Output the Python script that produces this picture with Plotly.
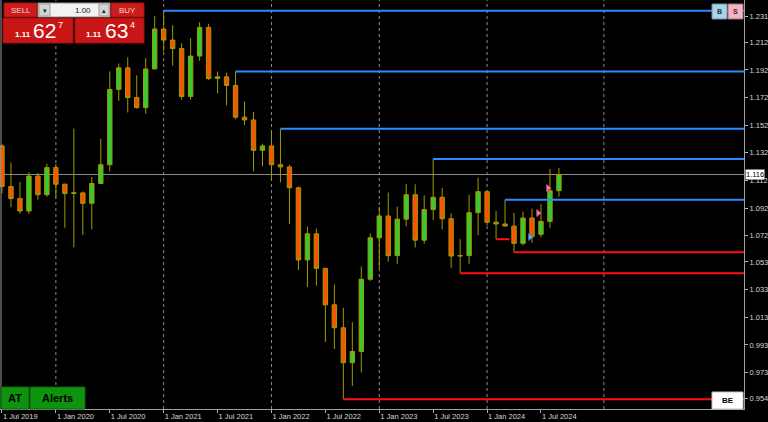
import plotly.graph_objects as go

# ---------------- data (EURUSD monthly, Jul 2019 .. Sep 2024) ----------------
month_idx = list(range(63))
opens = [1.1370, 1.1076, 1.0990, 1.0899, 1.1152, 1.1017,
         1.1213, 1.1093, 1.1026, 1.1030, 1.0955, 1.1098, 1.1234, 1.1779, 1.1935, 1.1720, 1.1647, 1.1927,
         1.2216, 1.2136, 1.2075, 1.1728, 1.2020, 1.2228, 1.1858, 1.1870, 1.1808, 1.1578, 1.1558, 1.1338,
         1.1370, 1.1234, 1.1218, 1.1067, 1.0545, 1.0734, 1.0484, 1.0220, 1.0054, 0.9801, 0.9882, 1.0405,
         1.0705, 1.0863, 1.0576, 1.0840, 1.1017, 1.0688, 1.0909, 1.0998, 1.0843, 1.0573, 1.0576, 1.0887,
         1.1039, 1.0818, 1.0805, 1.0790, 1.0665, 1.0848, 1.0730, 1.0824, 1.1046]
highs = [1.1383, 1.1250, 1.1110, 1.1179, 1.1175, 1.1240,
         1.1239, 1.1096, 1.1495, 1.1040, 1.1146, 1.1422, 1.1909, 1.1966, 1.2011, 1.1881, 1.2004, 1.2310,
         1.2349, 1.2243, 1.2113, 1.2150, 1.2266, 1.2254, 1.1909, 1.1900, 1.1909, 1.1692, 1.1616, 1.1386,
         1.1482, 1.1495, 1.1233, 1.1076, 1.0786, 1.0773, 1.0485, 1.0368, 1.0198, 1.0094, 1.0497, 1.0736,
         1.0929, 1.1033, 1.0930, 1.1095, 1.1092, 1.1012, 1.1276, 1.1065, 1.0882, 1.0695, 1.1017, 1.1140,
         1.1046, 1.0898, 1.0981, 1.0885, 1.0895, 1.0916, 1.0948, 1.1202, 1.1211]
lows = [1.1028, 1.0926, 1.0879, 1.0879, 1.0981, 1.1002,
        1.0992, 1.0778, 1.0636, 1.0727, 1.0766, 1.1095, 1.1186, 1.1696, 1.1612, 1.1640, 1.1603, 1.1925,
        1.2053, 1.1952, 1.1704, 1.1704, 1.1986, 1.1847, 1.1752, 1.1664, 1.1563, 1.1524, 1.1186, 1.1222,
        1.1121, 1.1106, 1.0806, 1.0471, 1.0349, 1.0359, 0.9952, 0.9900, 0.9536, 0.9632, 0.9730, 1.0393,
        1.0483, 1.0533, 1.0516, 1.0788, 1.0635, 1.0662, 1.0834, 1.0766, 1.0488, 1.0448, 1.0516, 1.0724,
        1.0795, 1.0695, 1.0787, 1.0601, 1.0650, 1.0668, 1.0709, 1.0778, 1.1002]
closes = [1.1077, 1.0989, 1.0899, 1.1152, 1.1017, 1.1213,
          1.1093, 1.1026, 1.1030, 1.0955, 1.1098, 1.1234, 1.1779, 1.1935, 1.1720, 1.1647, 1.1927, 1.2216,
          1.2136, 1.2075, 1.1728, 1.2020, 1.2228, 1.1858, 1.1870, 1.1808, 1.1578, 1.1558, 1.1338, 1.1370,
          1.1234, 1.1218, 1.1067, 1.0545, 1.0734, 1.0484, 1.0220, 1.0054, 0.9801, 0.9882, 1.0405, 1.0705,
          1.0863, 1.0576, 1.0840, 1.1017, 1.0688, 1.0909, 1.0998, 1.0843, 1.0573, 1.0576, 1.0887, 1.1039,
          1.0818, 1.0805, 1.0790, 1.0665, 1.0848, 1.0713, 1.0824, 1.1046, 1.1163]

date_ticks = [0, 6, 12, 18, 24, 30, 36, 42, 48, 54, 60]
date_labels = ["1 Jul 2019", "1 Jan 2020", "1 Jul 2020", "1 Jan 2021", "1 Jul 2021", "1 Jan 2022",
               "1 Jul 2022", "1 Jan 2023", "1 Jul 2023", "1 Jan 2024", "1 Jul 2024"]
price_ticks = [1.231, 1.212, 1.192, 1.172, 1.152, 1.132, 1.112, 1.092, 1.072, 1.053,
               1.033, 1.013, 0.993, 0.973, 0.954]
price_labels = ["1.231", "1.212", "1.192", "1.172", "1.152", "1.132", "1.112", "1.092", "1.072", "1.053",
                "1.033", "1.013", "0.993", "0.973", "0.954"]
year_grid = [6, 18, 30, 42, 54, 67]

# swing levels: (bar index, end index or None)
resist_levels = [(18, None), (26, None), (31, None), (48, None), (56, None)]
support_levels = [(38, None), (51, None), (57, None), (55, 56.5)]

# trade markers
mark_x_pink = [59.7, 60.8]
mark_y_pink = [1.0884, 1.1065]
mark_x_blue = [58.8]
mark_y_blue = [1.0711]

bid_label = "1.116"

# ---------------- figure ----------------
W, H = 768, 422
ML, MR, MT, MB = 0, 24, 0, 13
PW, PH = W - ML - MR, H - MT - MB
XR = [-0.22, 82.6]
YR = [0.9466, 1.2426]


def px(x):
    return x / PW


def py(y):
    return (PH - y) / PH


FONT = "Liberation Sans"
OLIVE = "#a09a00"

fig = go.Figure()
fig.add_trace(go.Candlestick(
    x=month_idx, open=opens, high=highs, low=lows, close=closes,
    increasing=dict(line=dict(color=OLIVE, width=1), fillcolor="#33cc33"),
    decreasing=dict(line=dict(color=OLIVE, width=1), fillcolor="#ff4f00"),
    whiskerwidth=0, hoverinfo="skip", showlegend=False,
))
fig.add_trace(go.Scatter(x=mark_x_pink, y=mark_y_pink, mode="markers",
                         marker=dict(symbol="triangle-right", size=6, color="#ff7fae",
                                     line=dict(color="#c04080", width=1)),
                         hoverinfo="skip", showlegend=False))
fig.add_trace(go.Scatter(x=mark_x_blue, y=mark_y_blue, mode="markers",
                         marker=dict(symbol="triangle-right", size=6, color="#6fb8ff",
                                     line=dict(color="#3070c0", width=1)),
                         hoverinfo="skip", showlegend=False))

shapes = []
# yearly dotted grid
for g in year_grid:
    shapes.append(dict(type="line", xref="x", yref="paper", x0=g, x1=g, y0=0, y1=1,
                       line=dict(color="#8a8a8a", width=1, dash="dot"), layer="below"))
# left frame line
shapes.append(dict(type="line", xref="paper", yref="paper", x0=px(1), x1=px(1), y0=0, y1=1,
                   line=dict(color="#9a9a9a", width=1)))
# bid line
shapes.append(dict(type="line", xref="paper", yref="y", x0=0, x1=1, y0=closes[-1], y1=closes[-1],
                   line=dict(color="#8c8c8c", width=1), layer="below"))
# swing level lines
for idx, end in resist_levels:
    shapes.append(dict(type="line", xref="x", yref="y", x0=idx, x1=end if end is not None else XR[1],
                       y0=highs[idx], y1=highs[idx], line=dict(color="#2a8cff", width=2)))
for idx, end in support_levels:
    shapes.append(dict(type="line", xref="x", yref="y", x0=idx, x1=end if end is not None else XR[1],
                       y0=lows[idx], y1=lows[idx], line=dict(color="#ff1010", width=2)))


def rect(x0, y0, x1, y1, fill, line=None):
    shapes.append(dict(type="rect", xref="paper", yref="paper", x0=px(x0), x1=px(x1), y0=py(y1), y1=py(y0),
                       fillcolor=fill, line=dict(color=line or fill, width=1), layer="above"))


annots = []


def text(x, y, s, size=8, color="white", bold=False, xanchor="center", family=FONT):
    if bold:
        s = "<b>" + s + "</b>"
    annots.append(dict(xref="paper", yref="paper", x=px(x), y=py(y), text=s, showarrow=False,
                       xanchor=xanchor, yanchor="middle", font=dict(size=size, color=color, family=family)))


# trade panel
rect(4, 3, 37, 17, "#cc1c1c", "#a01010")
rect(38, 3, 110, 17, "#f2f2f2", "#909090")
rect(39, 4, 50, 16, "#d4d4d4", "#a0a0a0")
rect(99, 4, 109, 16, "#d4d4d4", "#a0a0a0")
rect(111, 3, 144, 17, "#cc1c1c", "#a01010")
rect(3, 18, 73, 43, "#c81616", "#a01010")
rect(75, 18, 144, 43, "#c81616", "#a01010")
text(20.5, 10, "SELL", 8, "#f4d8d8")
text(127.5, 10, "BUY", 8, "#f4d8d8")
text(44.5, 10, "▾", 7, "#202020")
text(104, 10, "▴", 7, "#202020")
text(93, 10, "1.00", 8, "#202020", xanchor="right")
text(22.5, 34, "1.11", 8, "white", bold=True)
text(44, 31, "62", 21, "white")
text(60.5, 25, "7", 9, "white")
text(93.5, 34, "1.11", 8, "white", bold=True)
text(116, 31, "63", 21, "white")
text(132, 25, "4", 9, "white")

# B / S buttons
rect(712, 4, 727, 19, "#a8d4e8", "#7090a0")
rect(728, 4, 743, 19, "#f4b4c0", "#a07080")
text(719.5, 11.5, "B", 7, "#203040", bold=True)
text(735.5, 11.5, "S", 7, "#402030", bold=True)

# BE box
rect(712, 392, 743, 409, "white", "#c0c0c0")
text(727.5, 400.5, "BE", 8, "black", bold=True)

# AT / Alerts
rect(1, 387, 29, 409, "#0e930e", "#0a600a")
rect(30, 387, 85, 409, "#0e930e", "#0a600a")
text(15, 398, "AT", 11, "black", bold=True)
text(57.5, 398, "Alerts", 11, "black", bold=True)

# bid price tag on axis
annots.append(dict(xref="paper", yref="y", x=px(745), y=closes[-1], text=bid_label, showarrow=False,
                   xanchor="left", yanchor="middle", bgcolor="white", borderpad=0,
                   font=dict(size=7.5, color="black", family=FONT)))

fig.update_layout(
    width=W, height=H, margin=dict(l=ML, r=MR, t=MT, b=MB, pad=0),
    paper_bgcolor="black", plot_bgcolor="black", showlegend=False,
    shapes=shapes, annotations=annots,
    xaxis=dict(range=XR, tickmode="array", tickvals=date_ticks, ticktext=date_labels,
               ticks="outside", ticklen=3, tickcolor="#b0b0b0", ticklabelposition="outside right",
               tickfont=dict(size=7.5, color="#d8d8d8", family=FONT),
               showgrid=False, zeroline=False, showline=True, linecolor="#a0a0a0", linewidth=1,
               rangeslider=dict(visible=False), fixedrange=True),
    yaxis=dict(range=YR, side="right", tickmode="array", tickvals=price_ticks, ticktext=price_labels,
               ticks="outside", ticklen=3, tickcolor="#b0b0b0",
               tickfont=dict(size=7.5, color="#d8d8d8", family=FONT),
               showgrid=False, zeroline=False, showline=True, linecolor="#a0a0a0", linewidth=1,
               fixedrange=True),
)

fig.write_html("out.html", config={"displayModeBar": False},
               post_script="document.body.style.margin='0';document.body.style.background='black';")
